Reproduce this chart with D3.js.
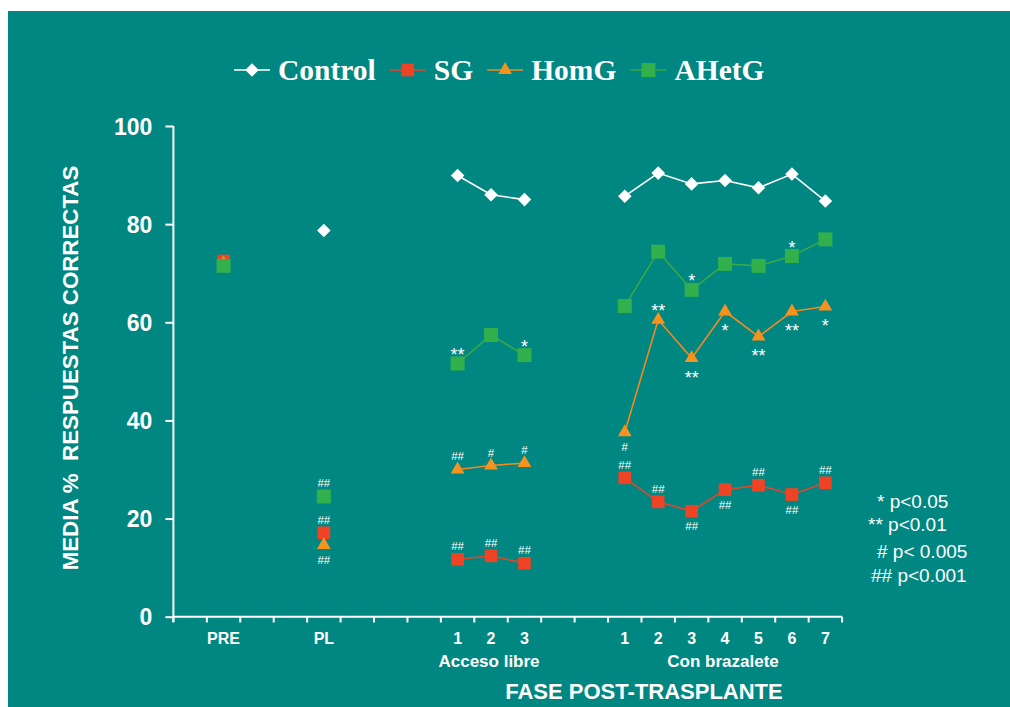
<!DOCTYPE html>
<html>
<head>
<meta charset="utf-8">
<script src="https://cdn.jsdelivr.net/npm/d3@7"></script>
<style>
  html, body { margin: 0; padding: 0; background: #ffffff; }
  svg { display: block; }
  text { fill: #ffffff; }
</style>
</head>
<body>
<svg id="chart" width="1010" height="707"></svg>
<script>
// slots along the x axis (empty ones are the gaps between phases)
var xSlots = ["g0", "PRE", "g2", "g3", "PL", "g5", "g6", "g7",
              "AL1", "AL2", "AL3", "g11", "g12",
              "CB1", "CB2", "CB3", "CB4", "CB5", "CB6", "CB7"];

var categories = ["PRE", "PL", "AL1", "AL2", "AL3", "CB1", "CB2", "CB3", "CB4", "CB5", "CB6", "CB7"];
var tickLabels = ["PRE", "PL", "1", "2", "3", "1", "2", "3", "4", "5", "6", "7"];
var phases = ["PRE", "PL", "Acceso libre", "Acceso libre", "Acceso libre",
              "Con brazalete", "Con brazalete", "Con brazalete", "Con brazalete",
              "Con brazalete", "Con brazalete", "Con brazalete"];

var control = [72.0, 78.7, 89.9, 86.0, 85.0, 85.7, 90.4, 88.2, 88.9, 87.4, 90.2, 84.7];
var sg      = [72.5, 17.1, 11.7, 12.4, 10.9, 28.3, 23.4, 21.5, 25.9, 26.8, 24.9, 27.3];
var homg    = [72.0, 14.6, 30.0, 30.8, 31.3, 37.6, 60.5, 52.7, 62.2, 57.1, 62.2, 63.2];
var ahetg   = [71.5, 24.5, 51.6, 57.4, 53.3, 63.3, 74.4, 66.6, 71.9, 71.5, 73.5, 76.9];

// significance marks
var controlSig = ["", "", "", "", "", "", "", "", "", "", "", ""];
var controlSide = ["", "", "", "", "", "", "", "", "", "", "", ""];
var sgSig   = ["", "##", "##", "##", "##", "##", "##", "##", "##", "##", "##", "##"];
var sgSide  = ["", "up", "up", "up", "up", "up", "up", "down", "down", "up", "down", "up"];
var homgSig  = ["", "##", "##", "#", "#", "#", "**", "**", "*", "**", "**", "*"];
var homgSide = ["", "down", "up", "up", "up", "down", "up", "down", "down", "down", "down", "down"];
var ahetgSig  = ["", "##", "**", "", "*", "", "", "*", "", "", "*", ""];
var ahetgSide = ["", "up", "up", "", "up", "", "", "up", "", "", "up", ""];

var yTicks = [0, 20, 40, 60, 80, 100];
var sigLegend = ["* p<0.05", "** p<0.01", "# p< 0.005", "## p<0.001"];

var series = [
  { name: "Control", values: control, sig: controlSig, side: controlSide, color: "#ffffff", line: "#ffffff", shape: "diamond" },
  { name: "SG",      values: sg,      sig: sgSig,      side: sgSide,      color: "#ee4324", line: "#e2462a", shape: "squareS" },
  { name: "HomG",    values: homg,    sig: homgSig,    side: homgSide,    color: "#f6921e", line: "#ef8a22", shape: "triangle" },
  { name: "AHetG",   values: ahetg,   sig: ahetgSig,   side: ahetgSide,   color: "#31b04c", line: "#3aa747", shape: "square" }
];

var svg = d3.select("#chart");

// teal panel
svg.append("rect").attr("x", 8).attr("y", 11).attr("width", 1002).attr("height", 696)
  .attr("fill", "#018782");

var x = d3.scaleBand().domain(xSlots).range([173.4, 842.1]);
var y = d3.scaleLinear().domain([0, 100]).range([616.7, 126]);

function shapePath(shape) {
  if (shape === "diamond") return d3.symbol().type(d3.symbolSquare).size(92)();
  if (shape === "triangle") return d3.symbol().type(d3.symbolTriangle).size(82)();
  if (shape === "squareS") return d3.symbol().type(d3.symbolSquare).size(160)();
  return d3.symbol().type(d3.symbolSquare).size(196)();
}
function shapeRot(shape) { return shape === "diamond" ? " rotate(45)" : ""; }

// y axis
var yAxis = svg.append("g").attr("transform", "translate(173.4,0)")
  .call(d3.axisLeft(y).tickValues(yTicks).tickSize(8).tickPadding(13));
yAxis.select(".domain").attr("d", "M0,126V622").attr("stroke", "#fff").attr("stroke-width", 2);
yAxis.selectAll(".tick line").attr("stroke", "#fff").attr("stroke-width", 2);
yAxis.selectAll(".tick text")
  .attr("fill", "#fff")
  .style("font-family", "Liberation Sans, Arial, sans-serif")
  .style("font-weight", "bold").style("font-size", "23px").attr("dy", "0.36em");

// x axis: ticks at every slot boundary
var bounds = xSlots.map(function (s) { return x(s); }).concat([x.range()[1]]);
var xAxisG = svg.append("g");
xAxisG.append("line").attr("x1", 173.4).attr("x2", 842.1).attr("y1", 616.7).attr("y2", 616.7)
  .attr("stroke", "#fff").attr("stroke-width", 2);
xAxisG.selectAll("line.tk").data(bounds).enter().append("line").attr("class", "tk")
  .attr("x1", function (d) { return d; }).attr("x2", function (d) { return d; })
  .attr("y1", 616.7).attr("y2", 622.5).attr("stroke", "#fff").attr("stroke-width", 2);
xAxisG.selectAll("text.tl").data(categories).enter().append("text").attr("class", "tl")
  .attr("x", function (d) { return x(d) + x.bandwidth() / 2; })
  .attr("y", 643.5)
  .attr("text-anchor", "middle")
  .style("font-family", "Liberation Sans, Arial, sans-serif")
  .style("font-weight", "bold").style("font-size", "16px")
  .text(function (d, i) { return tickLabels[i]; });

// phase group labels
var groups = d3.groups(categories.map(function (c, i) { return { c: c, p: phases[i] }; }), function (d) { return d.p; })
  .filter(function (g) { return g[1].length > 1; });
xAxisG.selectAll("text.gl").data(groups).enter().append("text").attr("class", "gl")
  .attr("x", function (g) {
    var a = x(g[1][0].c), b = x(g[1][g[1].length - 1].c) + x.bandwidth();
    return (a + b) / 2 - 2;
  })
  .attr("y", 666.7).attr("text-anchor", "middle")
  .style("font-family", "Liberation Sans, Arial, sans-serif")
  .style("font-weight", "bold").style("font-size", "17px")
  .text(function (g) { return g[0]; });

svg.append("text").attr("x", 644).attr("y", 699).attr("text-anchor", "middle")
  .style("font-family", "Liberation Sans, Arial, sans-serif")
  .style("font-weight", "bold").style("font-size", "22px")
  .text("FASE POST-TRASPLANTE");

// y title
svg.append("text").attr("transform", "translate(78,368) rotate(-90)")
  .attr("text-anchor", "middle")
  .style("font-family", "Liberation Sans, Arial, sans-serif")
  .style("font-weight", "bold").style("font-size", "22.3px")
  .style("white-space", "pre")
  .text("MEDIA %  RESPUESTAS CORRECTAS");

// series lines, per phase
var line = d3.line()
  .x(function (d) { return x(d.c) + x.bandwidth() / 2; })
  .y(function (d) { return y(d.v); });

series.forEach(function (s) {
  var pts = categories.map(function (c, i) { return { c: c, v: s.values[i], p: phases[i], sig: s.sig[i], side: s.side[i] }; });
  d3.groups(pts, function (d) { return d.p; }).forEach(function (g) {
    if (g[1].length < 2) return;
    svg.append("path").datum(g[1]).attr("d", line)
      .attr("fill", "none").attr("stroke", s.line).attr("stroke-width", 1.6);
  });
  s.pts = pts;
});

// markers
series.forEach(function (s) {
  svg.append("g").selectAll("path").data(s.pts).enter().append("path")
    .attr("d", shapePath(s.shape))
    .attr("transform", function (d) {
      return "translate(" + (x(d.c) + x.bandwidth() / 2) + "," + y(d.v) + ")" + shapeRot(s.shape);
    })
    .attr("fill", s.color);
});

// significance labels
series.forEach(function (s) {
  svg.append("g").selectAll("text").data(s.pts.filter(function (d) { return d.sig; })).enter().append("text")
    .attr("x", function (d) { return x(d.c) + x.bandwidth() / 2; })
    .attr("y", function (d) {
      var c = y(d.v) + (d.side === "up" ? -13 : 15);
      return d.sig.charAt(0) === "*" ? c + 10.5 : c + 4;
    })
    .attr("text-anchor", "middle")
    .style("font-family", "Liberation Sans, Arial, sans-serif")
    .style("font-size", function (d) { return d.sig.charAt(0) === "*" ? "18px" : "11.5px"; })
    .text(function (d) { return d.sig; });
});

// legend
var leg = svg.append("g");
var lx = 234;
series.forEach(function (s) {
  leg.append("line").attr("x1", lx).attr("x2", lx + 36).attr("y1", 70).attr("y2", 70)
    .attr("stroke", s.line).attr("stroke-width", 1.6);
  leg.append("path").attr("d", shapePath(s.shape))
    .attr("transform", "translate(" + (lx + 18) + ",70)" + shapeRot(s.shape))
    .attr("fill", s.color);
  var t = leg.append("text").attr("x", lx + 44).attr("y", 80)
    .style("font-family", "Liberation Serif, Times New Roman, serif")
    .style("font-weight", "bold").style("font-size", "29.5px")
    .text(s.name);
  lx += 44 + t.node().getComputedTextLength() + 14;
});

// significance key
var keyX = [877, 868, 877, 871];
var keyY = [508, 531, 558, 582];
svg.append("g").selectAll("text").data(sigLegend).enter().append("text")
  .attr("x", function (d, i) { return keyX[i]; })
  .attr("y", function (d, i) { return keyY[i]; })
  .style("font-family", "Liberation Sans, Arial, sans-serif")
  .style("font-size", "19px")
  .style("white-space", "pre")
  .text(function (d) { return d; });
</script>
</body>
</html>
